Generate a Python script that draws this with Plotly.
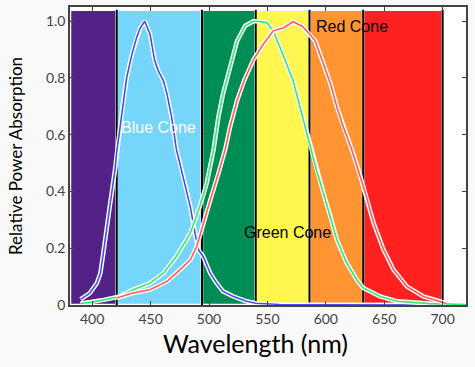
import plotly.graph_objects as go

# Cone absorption curves
blue_wl = [390, 398, 404, 407, 409.5, 412, 415, 419.5, 421, 424, 426, 429.5, 434, 438, 441, 445,
           449.5, 453.5, 456.5, 461, 464, 468, 472, 478, 484, 488, 491, 495, 501, 506.5, 512, 521,
           532, 540, 560, 600, 650, 700, 720]
blue_val = [0.02, 0.042, 0.077, 0.112, 0.182, 0.264, 0.346, 0.475, 0.54, 0.63, 0.70, 0.80, 0.884,
            0.942, 0.975, 1.0, 0.954, 0.861, 0.826, 0.79, 0.744, 0.662, 0.55, 0.451, 0.346, 0.253,
            0.194, 0.171, 0.112, 0.077, 0.048, 0.030, 0.013, 0.006, 0.002, 0.001, 0, 0, 0]

green_wl = [390, 400, 410, 423.5, 435, 449.5, 461, 472, 484, 492, 498, 504, 508, 512, 518, 524, 531,
            538, 541, 549.5, 555, 561, 566.5, 572, 578, 584, 588, 592, 598, 604, 609.5, 618, 626.5,
            632, 646.5, 661, 689, 720]
green_val = [0.005, 0.01, 0.018, 0.03, 0.054, 0.077, 0.112, 0.171, 0.253, 0.346, 0.428, 0.55, 0.662,
             0.744, 0.837, 0.93, 0.984, 1.0, 1.0, 0.995, 0.966, 0.907, 0.849, 0.79, 0.697, 0.604,
             0.545, 0.475, 0.393, 0.311, 0.229, 0.147, 0.089, 0.06, 0.03, 0.013, 0.005, 0.002]

red_wl = [421, 435, 449.5, 464, 475, 484, 489.5, 495, 501, 508, 514, 518, 524, 530, 538, 546.5, 555,
          564, 572, 579.5, 585, 591, 598, 604, 609.5, 615, 622, 628, 634, 641, 649.5, 658, 669.5,
          683.5, 698, 703]
red_val = [0.025, 0.042, 0.054, 0.083, 0.124, 0.159, 0.206, 0.288, 0.369, 0.463, 0.55, 0.627, 0.72,
           0.79, 0.864, 0.919, 0.966, 0.977, 0.998, 0.983, 0.96, 0.93, 0.849, 0.779, 0.697, 0.627,
           0.55, 0.475, 0.393, 0.288, 0.194, 0.124, 0.065, 0.03, 0.013, 0.005]

# Spectral colour bands
band_edges = [381, 421, 494, 540, 586, 632, 700]
band_colors = ["#522288", "#75D5FA", "#008D55", "#FFF650", "#FF9433", "#FF2020"]
band_top = 1.04

x_ticks = [400, 450, 500, 550, 600, 650, 700]
y_ticks = [0, 0.2, 0.4, 0.6, 0.8, 1.0]
y_tick_text = ["0", "0.2", "0.4", "0.6", "0.8", "1.0"]

labels = [("Blue Cone", 457, 0.627, "white"),
          ("Green Cone", 567, 0.257, "black"),
          ("Red Cone", 622, 0.983, "black")]

fig = go.Figure()

shapes = []
for i, c in enumerate(band_colors):
    shapes.append(dict(type="rect", xref="x", yref="y", x0=band_edges[i], x1=band_edges[i + 1],
                       y0=0, y1=band_top, fillcolor=c, line=dict(color="white", width=2.5),
                       layer="below"))
for e in band_edges[1:]:
    shapes.append(dict(type="line", xref="x", yref="y", x0=e, x1=e, y0=0, y1=band_top,
                       line=dict(color="black", width=2), layer="below"))

for wl, val, col in [(blue_wl, blue_val, "#4050E6"), (green_wl, green_val, "#33E86E"),
                     (red_wl, red_val, "#FF5A5A")]:
    fig.add_trace(go.Scatter(x=wl, y=val, mode="lines", line=dict(color="white", width=4.5),
                             hoverinfo="skip", showlegend=False))
    fig.add_trace(go.Scatter(x=wl, y=val, mode="lines", line=dict(color=col, width=1.6),
                             showlegend=False))

for text, lx, ly, col in labels:
    fig.add_annotation(x=lx, y=ly, text=text, showarrow=False,
                       font=dict(family="Liberation Sans, Arial", size=16, color=col))

# Axis titles placed in paper coordinates
fig.add_annotation(x=0.5, y=0, xref="paper", yref="paper", yshift=-38, xshift=-13,
                   yanchor="middle", xanchor="center", text="Wavelength (nm)", showarrow=False,
                   font=dict(family="Lato, Open Sans", size=25, color="black"))
fig.add_annotation(x=0, y=0.5, xref="paper", yref="paper", xshift=-55, xanchor="center",
                   yanchor="middle", textangle=-90,
                   text="Relative Power Absorption", showarrow=False,
                   font=dict(family="Lato, Open Sans", size=17, color="black"))

axis_common = dict(showline=True, mirror="allticks", linecolor="#444", linewidth=1.5,
                   ticks="inside", ticklen=4, tickcolor="#444", showgrid=False, zeroline=False,
                   automargin=False,
                   tickfont=dict(family="Lato, Open Sans", size=14, color="#444"))

fig.update_layout(
    width=475, height=367,
    margin=dict(l=70, r=9, t=7, b=62),
    paper_bgcolor="#F9F9F9", plot_bgcolor="white",
    shapes=shapes,
    xaxis=dict(range=[381, 720], tickvals=x_ticks, **axis_common),
    yaxis=dict(range=[0, 1.05], tickvals=y_ticks, ticktext=y_tick_text, **axis_common),
)

fig.write_html("out.html", config={"displayModeBar": False},
               post_script="document.body.style.margin='0';document.body.style.overflow='hidden';")
